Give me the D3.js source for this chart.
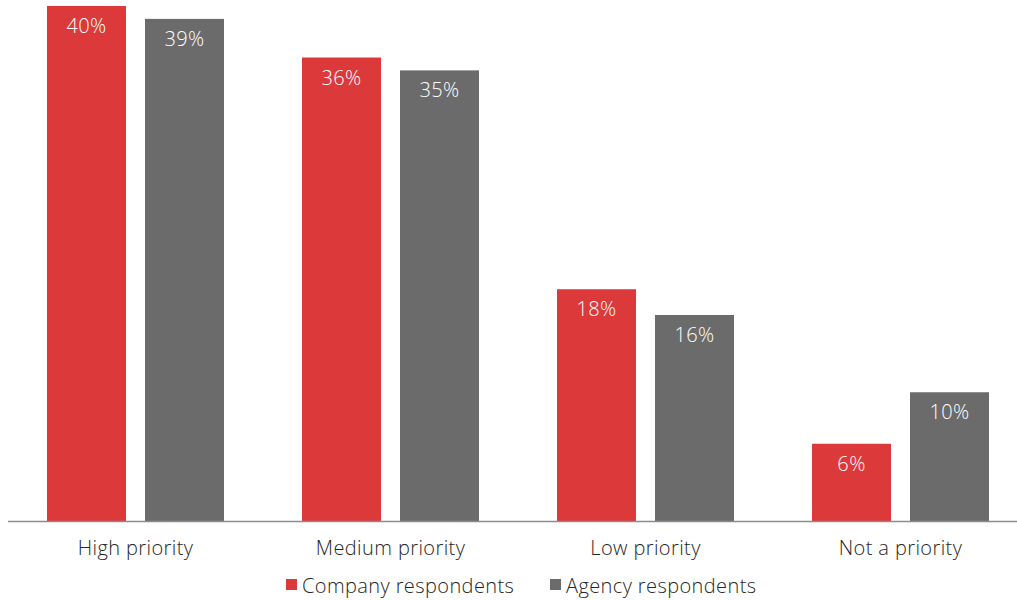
<!DOCTYPE html>
<html>
<head>
<meta charset="utf-8">
<script src="https://cdn.jsdelivr.net/npm/d3@7"></script>
<style>
  html, body { margin: 0; padding: 0; background: #fff; }
  svg { display: block; }
  text { font-family: "Open Sans", sans-serif; font-weight: 300; letter-spacing: 0.4px; }
</style>
</head>
<body>
<svg id="chart" width="1017" height="600"></svg>
<script>
const categories = ["High priority", "Medium priority", "Low priority", "Not a priority"];
const seriesNames = ["Company respondents", "Agency respondents"];
const company = [40, 36, 18, 6];
const agency = [39, 35, 16, 10];
const colors = ["#DC393A", "#6B6B6B"];

const svg = d3.select("#chart");
const baseY = 521;
const x0 = d3.scaleBand().domain(categories).range([8, 1028]).padding(0);
const x1 = d3.scaleBand().domain(seriesNames).range([0, x0.bandwidth()])
  .paddingInner(19 / 98).paddingOuter(39 / 98);
const y = d3.scaleLinear().domain([0, 40]).range([baseY, 6]);

const seriesData = [company, agency];
const rows = [];
categories.forEach((c, i) => {
  seriesNames.forEach((s, j) => rows.push({ cat: c, series: s, value: seriesData[j][i], color: colors[j] }));
});

svg.selectAll("rect.bar").data(rows).enter().append("rect")
  .attr("class", "bar")
  .attr("x", d => x0(d.cat) + x1(d.series))
  .attr("y", d => y(d.value))
  .attr("width", x1.bandwidth())
  .attr("height", d => baseY - y(d.value))
  .attr("fill", d => d.color);

svg.selectAll("text.val").data(rows).enter().append("text")
  .attr("class", "val")
  .attr("x", d => x0(d.cat) + x1(d.series) + x1.bandwidth() / 2)
  .attr("y", d => y(d.value) + 27)
  .attr("text-anchor", "middle")
  .attr("fill", "#fff")
  .attr("font-size", 20)
  .text(d => d.value + "%");

// x axis
const xAxis = d3.axisBottom(x0).tickSize(0).tickPadding(0);
const gx = svg.append("g").attr("transform", `translate(0,${baseY})`).call(xAxis);
gx.select(".domain").attr("stroke", "#8c8c8c").attr("stroke-width", 1.5).attr("d", "M8,0.5H1017");
gx.selectAll(".tick text")
  .attr("y", 34)
  .attr("dy", 0)
  .attr("font-size", 20)
  .attr("fill", "#262626")
  .style("font-family", "'Open Sans', sans-serif")
  .style("font-weight", 300)
  .style("letter-spacing", "0.4px");

// legend
const legendItems = [
  { name: seriesNames[0], color: colors[0], x: 286 },
  { name: seriesNames[1], color: colors[1], x: 550 }
];
const lg = svg.selectAll("g.leg").data(legendItems).enter().append("g")
  .attr("class", "leg")
  .attr("transform", d => `translate(${d.x},579)`);
lg.append("rect").attr("width", 11).attr("height", 11).attr("fill", d => d.color);
lg.append("text").attr("x", 16).attr("y", 13.5)
  .attr("font-size", 20).attr("fill", "#262626").text(d => d.name);
</script>
</body>
</html>
